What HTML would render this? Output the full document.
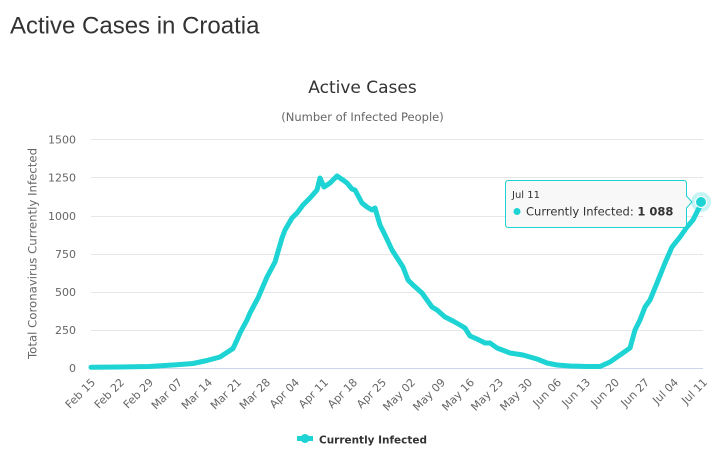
<!DOCTYPE html>
<html>
<head>
<meta charset="utf-8">
<style>
html,body{margin:0;padding:0;background:#fff;}
body{width:725px;height:461px;overflow:hidden;position:relative;}
svg{position:absolute;left:0;top:0;}
</style>
</head>
<body>
<svg width="725" height="461" viewBox="0 0 725 461" xmlns="http://www.w3.org/2000/svg">
  <text x="10" y="33.5" font-family="Liberation Sans, Arial, sans-serif" font-size="24" fill="#333">Active Cases in Croatia</text>

  <text x="362.5" y="93" text-anchor="middle" font-family="DejaVu Sans, sans-serif" font-size="17" fill="#333">Active Cases</text>
  <text x="362.5" y="121" text-anchor="middle" font-family="DejaVu Sans, sans-serif" font-size="11.5" fill="#666">(Number of Infected People)</text>

  <!-- grid -->
  <g stroke="#e6e6e6" stroke-width="1">
    <line x1="91" y1="139.5" x2="703" y2="139.5"/>
    <line x1="91" y1="177.5" x2="703" y2="177.5"/>
    <line x1="91" y1="216.5" x2="703" y2="216.5"/>
    <line x1="91" y1="254.5" x2="703" y2="254.5"/>
    <line x1="91" y1="292.5" x2="703" y2="292.5"/>
    <line x1="91" y1="330.5" x2="703" y2="330.5"/>
  </g>
  <line x1="91" y1="368.5" x2="703" y2="368.5" stroke="#ccd6eb" stroke-width="1"/>

  <!-- y labels -->
  <g font-family="DejaVu Sans, sans-serif" font-size="11" fill="#666" text-anchor="end">
    <text x="76" y="143.5">1500</text>
    <text x="76" y="181.5">1250</text>
    <text x="76" y="220">1000</text>
    <text x="76" y="258">750</text>
    <text x="76" y="296">500</text>
    <text x="76" y="334">250</text>
    <text x="76" y="372">0</text>
  </g>
  <text transform="translate(36.5,253.5) rotate(-90)" text-anchor="middle" font-family="DejaVu Sans, sans-serif" font-size="11.5" fill="#666" textLength="211" lengthAdjust="spacingAndGlyphs">Total Coronavirus Currently Infected</text>

  <!-- x labels -->
  <g font-family="DejaVu Sans, sans-serif" font-size="11" fill="#666" text-anchor="end">
    <text transform="translate(96,383) rotate(-45)">Feb 15</text>
    <text transform="translate(125,383) rotate(-45)">Feb 22</text>
    <text transform="translate(154,383) rotate(-45)">Feb 29</text>
    <text transform="translate(183,383) rotate(-45)">Mar 07</text>
    <text transform="translate(213,383) rotate(-45)">Mar 14</text>
    <text transform="translate(242,383) rotate(-45)">Mar 21</text>
    <text transform="translate(271,383) rotate(-45)">Mar 28</text>
    <text transform="translate(300,383) rotate(-45)">Apr 04</text>
    <text transform="translate(329,383) rotate(-45)">Apr 11</text>
    <text transform="translate(358,383) rotate(-45)">Apr 18</text>
    <text transform="translate(387,383) rotate(-45)">Apr 25</text>
    <text transform="translate(416,383) rotate(-45)">May 02</text>
    <text transform="translate(446,383) rotate(-45)">May 09</text>
    <text transform="translate(475,383) rotate(-45)">May 16</text>
    <text transform="translate(504,383) rotate(-45)">May 23</text>
    <text transform="translate(533,383) rotate(-45)">May 30</text>
    <text transform="translate(562,383) rotate(-45)">Jun 06</text>
    <text transform="translate(591,383) rotate(-45)">Jun 13</text>
    <text transform="translate(620,383) rotate(-45)">Jun 20</text>
    <text transform="translate(650,383) rotate(-45)">Jun 27</text>
    <text transform="translate(679,383) rotate(-45)">Jul 04</text>
    <text transform="translate(708,383) rotate(-45)">Jul 11</text>
  </g>

  <!-- series -->
  <polyline fill="none" stroke="#1dd3d3" stroke-width="5" stroke-linejoin="round" stroke-linecap="round"
    points="91,367.3 120,367 149,366.5 165,365.5 180,364.5 193,363.5 207,360.5 220,357 233,348.5 237,340 240,333 247,320 250,313 258,298 267,277 275,262 282,238 285,230 292,218 297,213 303,205 310,198 317,190 320,178 324,187 330,183 337,176 343,180 347,183 352,189 355,190 362,203 367,207 372,210 375,208 380,225 385,235 392,250 403,267 408,280 413,285 422,293 432,307 437,310 445,317 453,321 460,325 465,328 470,336 477,339 485,343 490,343 497,348 510,353 523,355 537,359 547,363 557,365 570,366 587,366.5 600,366.5 610,362 620,355 630,348 635,330 640,320 645,307 650,300 657,283 665,263 672,247 680,237 687,227 693,220 702,202"/>

  <!-- halo + marker -->
  <circle cx="701" cy="202" r="10" fill="#1dd3d3" fill-opacity="0.25"/>
  <circle cx="701" cy="202" r="5.5" fill="#1dd3d3" stroke="#fff" stroke-width="1"/>

  <!-- tooltip -->
  <path d="M508.5,180.5 L683.5,180.5 Q686.5,180.5 686.5,183.5 L686.5,196 L692,202 L686.5,208 L686.5,224.5 Q686.5,227.5 683.5,227.5 L508.5,227.5 Q505.5,227.5 505.5,224.5 L505.5,183.5 Q505.5,180.5 508.5,180.5 Z"
    fill="#f7f7f7" fill-opacity="0.9" stroke="#1dd3d3" stroke-width="1"/>
  <text x="512" y="198" font-family="DejaVu Sans, sans-serif" font-size="10" fill="#333">Jul 11</text>
  <circle cx="517" cy="211.5" r="3.5" fill="#1dd3d3"/>
  <text x="526" y="215.5" font-family="DejaVu Sans, sans-serif" font-size="11.5" fill="#333">Currently Infected: <tspan font-weight="bold">1 088</tspan></text>

  <!-- legend -->
  <line x1="297" y1="438.5" x2="313" y2="438.5" stroke="#1dd3d3" stroke-width="5"/>
  <circle cx="305" cy="438.5" r="4.5" fill="#1dd3d3"/>
  <text x="319" y="443.5" font-family="DejaVu Sans, sans-serif" font-size="11" font-weight="bold" fill="#333" textLength="108" lengthAdjust="spacingAndGlyphs">Currently Infected</text>
</svg>
</body>
</html>
